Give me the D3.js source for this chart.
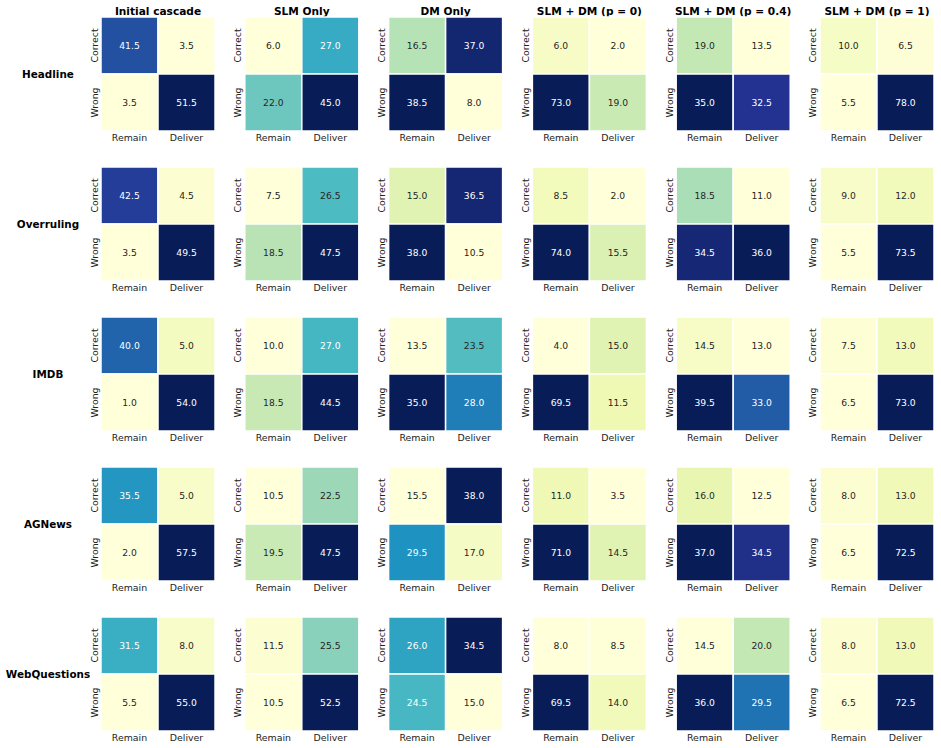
<!DOCTYPE html>
<html>
<head>
<meta charset="utf-8">
<script src="https://cdn.jsdelivr.net/npm/d3@7"></script>
<style>
  body { margin: 0; background: #fff; }
  text { font-family: "DejaVu Sans", sans-serif; }
</style>
</head>
<body>
<svg id="chart" width="941" height="748"></svg>
<script>
// panel titles (columns) and datasets (rows)
var methods = ["Initial cascade", "SLM Only", "DM Only",
  "SLM + DM (p = 0)", "SLM + DM (p = 0.4)", "SLM + DM (p = 1)"];
var datasets = ["Headline", "Overruling", "IMDB", "AGNews", "WebQuestions"];
var rowLabels = ["Correct", "Wrong"];
var colLabels = ["Remain", "Deliver"];

// each entry: [Correct/Remain, Correct/Deliver, Wrong/Remain, Wrong/Deliver], one per method
var headlineVals = [[41.5, 3.5, 3.5, 51.5], [6.0, 27.0, 22.0, 45.0], [16.5, 37.0, 38.5, 8.0],
  [6.0, 2.0, 73.0, 19.0], [19.0, 13.5, 35.0, 32.5], [10.0, 6.5, 5.5, 78.0]];
var overrulingVals = [[42.5, 4.5, 3.5, 49.5], [7.5, 26.5, 18.5, 47.5], [15.0, 36.5, 38.0, 10.5],
  [8.5, 2.0, 74.0, 15.5], [18.5, 11.0, 34.5, 36.0], [9.0, 12.0, 5.5, 73.5]];
var imdbVals = [[40.0, 5.0, 1.0, 54.0], [10.0, 27.0, 18.5, 44.5], [13.5, 23.5, 35.0, 28.0],
  [4.0, 15.0, 69.5, 11.5], [14.5, 13.0, 39.5, 33.0], [7.5, 13.0, 6.5, 73.0]];
var agnewsVals = [[35.5, 5.0, 2.0, 57.5], [10.5, 22.5, 19.5, 47.5], [15.5, 38.0, 29.5, 17.0],
  [11.0, 3.5, 71.0, 14.5], [16.0, 12.5, 37.0, 34.5], [8.0, 13.0, 6.5, 72.5]];
var webqVals = [[31.5, 8.0, 5.5, 55.0], [11.5, 25.5, 10.5, 52.5], [26.0, 34.5, 24.5, 15.0],
  [8.0, 8.5, 69.5, 14.0], [14.5, 20.0, 36.0, 29.5], [8.0, 13.0, 6.5, 72.5]];
var allVals = [headlineVals, overrulingVals, imdbVals, agnewsVals, webqVals];

var svg = d3.select("#chart");

var panelX = d3.scaleBand().domain(methods).range([101, 934]).paddingInner(0.207);
var panelY = d3.scaleBand().domain(datasets).range([17, 731]).paddingInner(0.24);
var cellX = d3.scaleBand().domain(colLabels).range([0, panelX.bandwidth()]);
var cellY = d3.scaleBand().domain(rowLabels).range([0, panelY.bandwidth()]);

var ylgnbu = d3.schemeYlGnBu[9];

/* seaborn style: pick text colour from the cell's luminance */
function luminance(c) {
  var rgb = d3.rgb(c);
  var lin = [rgb.r, rgb.g, rgb.b].map(function(v) {
    v = v / 255;
    return v <= 0.03928 ? v / 12.92 : Math.pow((v + 0.055) / 1.055, 2.4);
  });
  return 0.2126 * lin[0] + 0.7152 * lin[1] + 0.0722 * lin[2];
}

// column titles
svg.selectAll(".title")
  .data(methods)
  .enter()
  .append("text")
    .attr("class", "title")
    .attr("x", function(d) {return panelX(d) + panelX.bandwidth()/2;})
    .attr("y", 14.5)
    .style("text-anchor", "middle")
    .style("font-weight", "bold")
    .style("font-size", "10.6px")
    .style("fill", "#000")
    .text(function(d) {return d;});

// row labels
svg.selectAll(".rowlabel")
  .data(datasets)
  .enter()
  .append("text")
    .attr("class", "rowlabel")
    .attr("x", 48)
    .attr("y", function(d) {return panelY(d) + panelY.bandwidth()/2;})
    .attr("dy", "0.36em")
    .style("text-anchor", "middle")
    .style("font-weight", "bold")
    .style("font-size", "10.4px")
    .style("fill", "#000")
    .text(function(d) {return d;});

datasets.forEach(function(ds, r) {
  methods.forEach(function(m, c) {
    var vals = allVals[r][c];
    var cells = [];
    rowLabels.forEach(function(rl, i) {
      colLabels.forEach(function(cl, j) {
        cells.push({row: rl, col: cl, value: vals[i*2 + j]});
      });
    });
    var color = d3.scaleLinear()
      .domain(d3.range(9).map(function(k) {
        return d3.min(vals) + (d3.max(vals) - d3.min(vals)) * k / 8;
      }))
      .range(ylgnbu)
      .clamp(true);

    var g = svg.append("g")
      .attr("transform", "translate(" + panelX(m) + "," + panelY(ds) + ")");

    g.selectAll("rect")
      .data(cells)
      .enter()
      .append("rect")
        .attr("x", function(d) {return cellX(d.col);})
        .attr("y", function(d) {return cellY(d.row);})
        .attr("width", cellX.bandwidth())
        .attr("height", cellY.bandwidth())
        .attr("fill", function(d) {return color(d.value);})
        .attr("stroke", "#fff")
        .attr("stroke-width", 1.5);

    g.selectAll(".annot")
      .data(cells)
      .enter()
      .append("text")
        .attr("class", "annot")
        .attr("x", function(d) {return cellX(d.col) + cellX.bandwidth()/2;})
        .attr("y", function(d) {return cellY(d.row) + cellY.bandwidth()/2;})
        .attr("dy", "0.36em")
        .style("text-anchor", "middle")
        .style("font-size", "9.2px")
        .style("fill", function(d) {return luminance(color(d.value)) > 0.408 ? "#262626" : "#fff";})
        .text(function(d) {return d.value.toFixed(1);});

    // x tick labels
    g.selectAll(".xtick")
      .data(colLabels)
      .enter()
      .append("text")
        .attr("class", "xtick")
        .attr("x", function(d) {return cellX(d) + cellX.bandwidth()/2;})
        .attr("y", panelY.bandwidth() + 10)
        .style("text-anchor", "middle")
        .style("font-size", "9.4px")
        .style("fill", "#222")
        .text(function(d) {return d;});

    // y tick labels, rotated
    g.selectAll(".ytick")
      .data(rowLabels)
      .enter()
      .append("text")
        .attr("class", "ytick")
        .attr("transform", function(d) {
          return "translate(-3.5," + (cellY(d) + cellY.bandwidth()/2) + ") rotate(-90)";
        })
        .style("text-anchor", "middle")
        .style("font-size", "9.4px")
        .style("fill", "#222")
        .text(function(d) {return d;});
  });
});
</script>
</body>
</html>
